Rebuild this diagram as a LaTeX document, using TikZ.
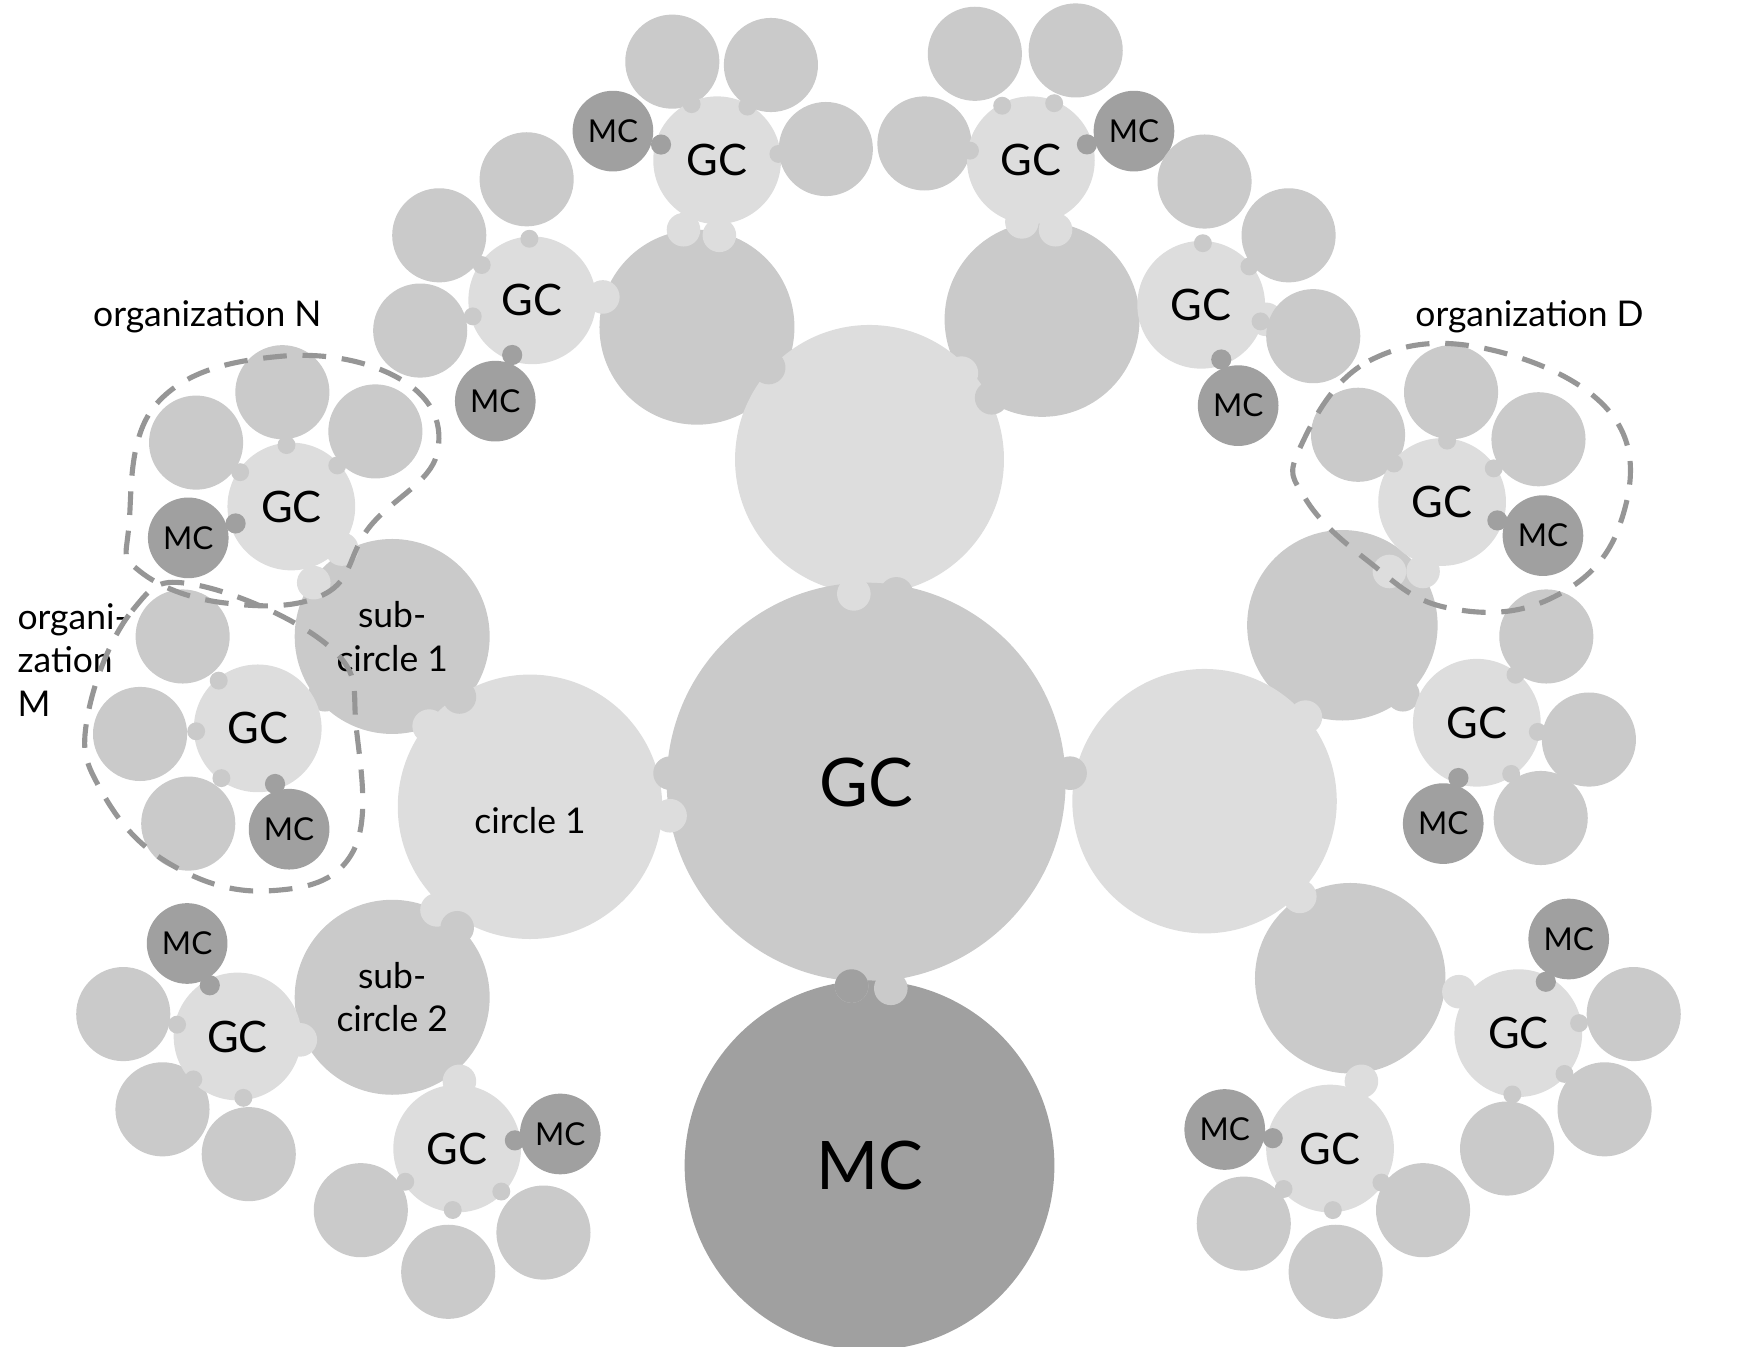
\documentclass[tikz,border=0pt]{standalone}
\usepackage{fontspec}
\setmainfont{Lato}
\usetikzlibrary{calc,positioning}
\definecolor{lightgc}{RGB}{221,221,221}
\definecolor{midgc}{RGB}{202,202,202}
\definecolor{darkmc}{RGB}{160,160,160}
\definecolor{dashgray}{RGB}{150,150,150}
\def\u{0.01cm}
\tikzset{
  light/.style={circle,fill=lightgc,inner sep=0pt},
  mid/.style={circle,fill=midgc,inner sep=0pt},
  dark/.style={circle,fill=darkmc,inner sep=0pt},
  orgline/.style={dashed,dash pattern=on 6pt off 4pt,draw=dashgray,line width=1.3pt},
  label/.style={font=\fontsize{9}{11}\selectfont,align=left},
}
% one GC cluster: name, centre, MC centre, leaf centres
\newcommand{\gccluster}[4]{%
  \foreach \lx/\ly [count=\i] in {#4}{
    \node[mid,minimum size=84*\u] (#1l\i) at (\lx,\ly) {};
  }
  \node[light,minimum size=114*\u,font=\fontsize{11}{13}\selectfont] (#1) at (#2) {GC};
  \foreach \lx/\ly [count=\i] in {#4}{
    \node[mid,minimum size=16*\u] (#1k\i) at ($(#1)!55*\u!(#1l\i)$) {};
  }
  \node[dark,minimum size=72*\u,font=\fontsize{8}{10}\selectfont] (#1m) at (#3) {MC};
  \node[dark,minimum size=18*\u] (#1mk) at ($(#1)!52*\u!(#1m)$) {};
}
\begin{document}
\begin{tikzpicture}[x=0.01cm,y=-0.01cm]
  \useasboundingbox (0,0) rectangle (1560,1202);

  % sub-circles
  \node[mid,minimum size=174*\u] (sub1) at (350,568) {};
  \node[mid,minimum size=174*\u] (sub2) at (350,890) {};
  \node[mid,minimum size=174*\u] (subtl) at (622,292) {};
  \node[mid,minimum size=174*\u] (subtr) at (930,285) {};
  \node[mid,minimum size=170*\u] (subru) at (1198,558) {};
  \node[mid,minimum size=170*\u] (subrl) at (1205,873) {};

  % circles
  \node[light,minimum size=240*\u] (top) at (776,410) {};
  \node[light,minimum size=236*\u] (circ1) at (473,720) {};
  \node[light,minimum size=236*\u] (right) at (1075,715) {};

  % main circles
  \node[mid,minimum size=356*\u,font=\fontsize{17}{20}\selectfont] (gc) at (773,698) {GC};
  \node[dark,minimum size=330*\u,font=\fontsize{17}{20}\selectfont] (mc) at (776,1040) {MC};

  % knobs
  \foreach \kx/\ky [count=\i] in {762/530, 598/728, 686/358, 858/333, 383/648, 390/812, 1165/640, 1160/800, 610/205, 642/210, 912/198, 942/205, 538/265, 1130/285, 305/490, 280/520, 1270/510, 1240/510, 410/965, 1215/965, 268/928, 1302/885}
    \node[light,minimum size=30*\u] (ka\i) at (\kx,\ky) {};
  \foreach \kx/\ky [count=\i] in {800/530, 598/690, 955/690, 686/328, 885/355, 410/622, 408/828, 760/880, 795/882, 290/620, 1252/620}
    \node[mid,minimum size=30*\u] (kb\i) at (\kx,\ky) {};
  \node[dark,minimum size=30*\u] (kc1) at (760,880) {};

  % GC clusters
  \gccluster{ga}{640,143}{547,117}{600/55, 688/58, 737/133}
  \gccluster{gb}{920,143}{1012,117}{870/48, 960/45, 825/128}
  \gccluster{gc3}{475,268}{442,358}{392/210, 470/160, 375/295}
  \gccluster{gd}{1072,272}{1105,362}{1150/210, 1172/300, 1075/162}
  \gccluster{gn}{260,452}{168,480}{175/395, 252/350, 335/385}
  \gccluster{gm}{230,650}{258,740}{163/568, 125/655, 168/735}
  \gccluster{go}{1287,448}{1377,478}{1212/388, 1295/350, 1373/392}
  \gccluster{gp}{1318,645}{1288,735}{1380/568, 1418/660, 1375/730}
  \gccluster{gq}{212,925}{167,842}{110/905, 145/990, 222/1030}
  \gccluster{gr}{408,1025}{500,1012}{322/1080, 400/1135, 485/1100}
  \gccluster{gs}{1355,922}{1400,838}{1458/905, 1432/990, 1345/1025}
  \gccluster{gt}{1187,1025}{1093,1008}{1110/1092, 1192/1135, 1270/1080}

  % texts
  \node[label,align=center] (tsub1) at (350,568) {sub-\\circle 1};
  \node[label,align=center] (tsub2) at (350,890) {sub-\\circle 2};
  \node[label] (tcirc1) at (473,732) {circle 1};
  \node[label] (torgn) at (185,283) {organization N};
  \node[label] (torgd) at (1365,283) {organization D};
  \node[label,anchor=north west,inner sep=0pt] (torgm) at (15,538) {organi-\\zation\\M};

  % organizations
  \draw[orgline] plot[smooth cycle,tension=0.7] coordinates {(115,470) (140,360) (250,318) (360,340) (390,405) (330,470) (290,530) (200,538) (125,510)};
  \draw[orgline] plot[smooth cycle,tension=0.7] coordinates {(78,640) (118,545) (175,522) (295,578) (318,650) (315,760) (240,795) (150,770) (90,705)};
  \draw[orgline] plot[smooth cycle,tension=0.7] coordinates {(1160,400) (1222,322) (1330,312) (1440,372) (1445,470) (1382,535) (1290,542) (1220,500) (1165,445)};
\end{tikzpicture}
\end{document}
